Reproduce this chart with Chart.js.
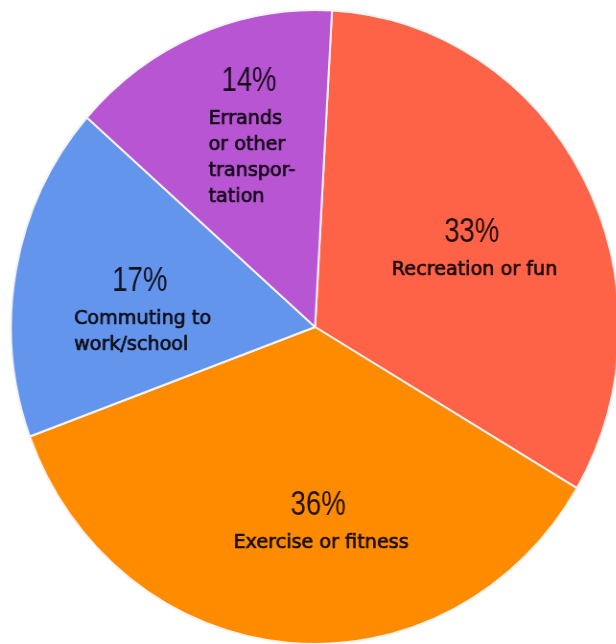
<!DOCTYPE html>
<html>
<head>
<meta charset="utf-8">
<script src="https://cdn.jsdelivr.net/npm/chart.js@4.4.1/dist/chart.umd.min.js"></script>
<style>
html,body{margin:0;padding:0;background:#fff;overflow:hidden;width:616px;height:644px}
#wrap{position:absolute;left:0;top:0;width:660px;height:644px;transform:scaleX(0.959);transform-origin:0 0}
</style>
</head>
<body>
<div id="wrap"><canvas id="c" width="660" height="644"></canvas></div>
<script>
// ---- data ----
const categories = [
  ["Recreation or fun"],
  ["Exercise or fitness"],
  ["Commuting to", "work/school"],
  ["Errands", "or other", "transpor-", "tation"]
];
const shares = [32.6, 35.9, 17.1, 14.4];

// ---- style ----
const sliceColors = ["#FF6347", "#FF8C00", "#6495ED", "#B855D3"];
const labelPlacement = [[0.577, 3.55], [0.622, -7.0], [0.569, -6.1], [0.628, 3.4]]; // [radius fraction, angle shift deg]
const PCT_FONT = '35px "Liberation Sans", sans-serif';
const PCT_SQUEEZE = 0.82;
const LABEL_FONT = '20px "DejaVu Sans", sans-serif';
const LABEL_SQUEEZE = 1.0;
const TEXT_COLOR = "rgba(12,6,12,0.92)";
const PCT_GAP = 38;
const LINE_H = 26;

const sliceLabels = {
  id: "sliceLabels",
  afterDatasetsDraw(chart) {
    const ctx = chart.ctx;
    const meta = chart.getDatasetMeta(0);
    const vals = chart.data.datasets[0].data;
    const total = vals.reduce((a, b) => a + b, 0);
    meta.data.forEach((arc, i) => {
      const p = arc.getProps(["x", "y", "startAngle", "endAngle", "outerRadius"], true);
      const [frac, shiftDeg] = labelPlacement[i];
      const mid = (p.startAngle + p.endAngle) / 2 + shiftDeg * Math.PI / 180;
      const cx = p.x + Math.cos(mid) * p.outerRadius * frac;
      const cy = p.y + Math.sin(mid) * p.outerRadius * frac;
      const lines = chart.data.labels[i];
      const pct = Math.round(vals[i] / total * 100) + "%";
      const span = PCT_GAP + (lines.length - 1) * LINE_H;
      const pctY = cy - span / 2;
      ctx.save();
      ctx.fillStyle = TEXT_COLOR;
      ctx.strokeStyle = TEXT_COLOR;
      ctx.textBaseline = "middle";
      // percentage
      ctx.save();
      ctx.translate(cx - 3, pctY);
      ctx.scale(PCT_SQUEEZE, 1);
      ctx.textAlign = "center";
      ctx.font = PCT_FONT;
      ctx.fillText(pct, 0, 0);
      ctx.restore();
      // category name, left aligned block centered on anchor
      ctx.font = LABEL_FONT;
      ctx.lineWidth = 0.7;
      const w = Math.max(...lines.map(l => ctx.measureText(l).width)) * LABEL_SQUEEZE;
      ctx.textAlign = "left";
      lines.forEach((l, k) => {
        ctx.save();
        ctx.translate(cx - w / 2, pctY + PCT_GAP + k * LINE_H);
        ctx.scale(LABEL_SQUEEZE, 1);
        ctx.fillText(l, 0, 0);
        ctx.strokeText(l, 0, 0);
        ctx.restore();
      });
      ctx.restore();
    });
  }
};

new Chart(document.getElementById("c"), {
  type: "pie",
  data: {
    labels: categories,
    datasets: [{
      data: shares,
      backgroundColor: sliceColors,
      borderColor: "#f3f3f3",
      borderWidth: 2,
      radius: 317
    }]
  },
  options: {
    responsive: false,
    animation: false,
    rotation: 3.2,
    layout: { padding: { left: 0, right: 3, top: 10, bottom: 0 } },
    plugins: { legend: { display: false }, tooltip: { enabled: false } }
  },
  plugins: [sliceLabels]
});
</script>
</body>
</html>
